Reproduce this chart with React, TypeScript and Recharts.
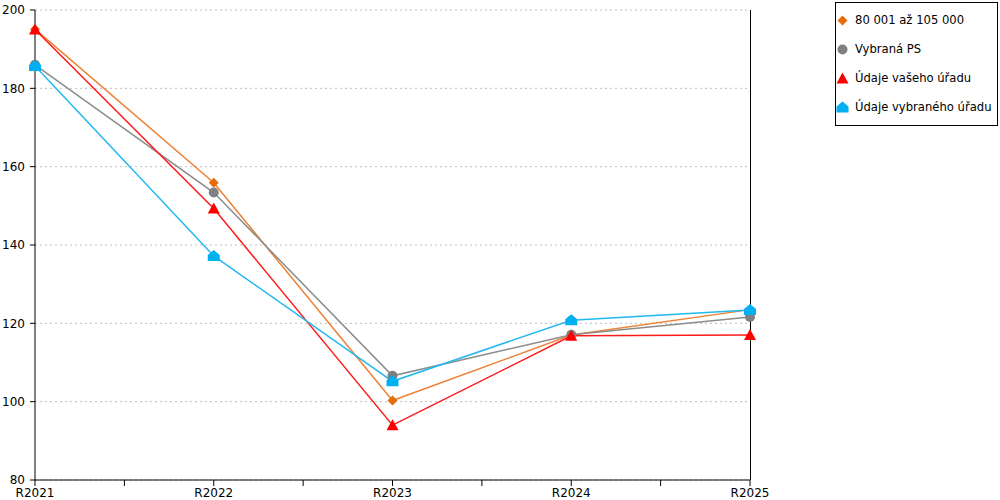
import { CartesianGrid, Line, LineChart, ReferenceLine, XAxis, YAxis } from "recharts";

const categories = ["R2021", "R2022", "R2023", "R2024", "R2025"];
const rangeGroup = [195.1, 155.9, 100.3, 117.0, 123.5];
const selectedPs = [186.0, 153.4, 106.6, 117.1, 121.6];
const yourOffice = [195.0, 149.3, 94.0, 116.8, 117.0];
const selectedOffice = [185.7, 137.2, 105.2, 120.8, 123.4];
const yTicks = [80, 100, 120, 140, 160, 180, 200];
const xTicks = [0, 0.5, 1, 1.5, 2, 2.5, 3, 3.5, 4];

const FONT = "'DejaVu Sans', Verdana, sans-serif";

type Shape = "diamond" | "circle" | "triangle" | "house";

const series: { key: string; name: string; color: string; line: string; shape: Shape }[] = [
  { key: "a", name: "80 001 až 105 000", color: "#E46C0A", line: "#EE8236", shape: "diamond" },
  { key: "b", name: "Vybraná PS", color: "#808080", line: "#8C8C8C", shape: "circle" },
  { key: "c", name: "Údaje vašeho úřadu", color: "#FF0000", line: "#FF1A1A", shape: "triangle" },
  { key: "d", name: "Údaje vybraného úřadu", color: "#00B0F0", line: "#22B8F0", shape: "house" },
];

const data = categories.map((c, i) => ({
  idx: i,
  cat: c,
  a: rangeGroup[i],
  b: selectedPs[i],
  c: yourOffice[i],
  d: selectedOffice[i],
}));

function Marker({ shape, cx, cy, fill }: { shape: Shape; cx: number; cy: number; fill: string }) {
  if (shape === "circle") return <circle cx={cx} cy={cy} r={5} fill={fill} />;
  let pts: number[][];
  if (shape === "diamond") {
    pts = [[cx, cy - 5], [cx + 5, cy], [cx, cy + 5], [cx - 5, cy]];
  } else if (shape === "triangle") {
    pts = [[cx, cy - 6], [cx + 6, cy + 5], [cx - 6, cy + 5]];
  } else {
    pts = [[cx, cy - 6], [cx + 6, cy - 1], [cx + 6, cy + 5], [cx - 6, cy + 5], [cx - 6, cy - 1]];
  }
  return <polygon points={pts.map((p) => p.join(",")).join(" ")} fill={fill} />;
}

function LegendBox() {
  return (
    <div
      style={{
        position: "absolute",
        left: 835,
        top: 2,
        width: 161,
        height: 122,
        border: "1px solid #000",
        background: "#fff",
        fontFamily: FONT,
        fontSize: 11.6,
        color: "#000",
      }}
    >
      {series.map((s, i) => (
        <div
          key={s.key}
          style={{ position: "absolute", left: 0, top: 9 + i * 29, height: 16, display: "flex", alignItems: "center" }}
        >
          <svg width={14} height={14}>
            <Marker shape={s.shape} cx={6.5} cy={7.5} fill={s.color} />
          </svg>
          <span style={{ marginLeft: 5, whiteSpace: "nowrap" }}>{s.name}</span>
        </div>
      ))}
    </div>
  );
}

export default function App() {
  return (
    <div style={{ position: "absolute", left: 0, top: 0, width: 1000, height: 500, background: "#fff" }}>
      <LineChart width={1000} height={500} data={data} margin={{ top: 10, right: 250, left: 0, bottom: 0 }}>
        <CartesianGrid vertical={false} stroke="#BFBFBF" strokeDasharray="2 3" />
        <XAxis
          dataKey="idx"
          type="number"
          domain={[0, 4]}
          ticks={xTicks}
          interval={0}
          height={20}
          tickSize={6}
          tickMargin={2}
          stroke="#000"
          tickFormatter={(v: number) => (Number.isInteger(v) ? categories[v] : "")}
          tick={{ fill: "#000", fontSize: 12, fontFamily: FONT }}
        />
        <YAxis
          domain={[80, 200]}
          ticks={yTicks}
          width={35}
          tickSize={5}
          tickMargin={5}
          stroke="#000"
          tick={{ fill: "#000", fontSize: 12, fontFamily: FONT }}
        />
        <ReferenceLine x={4} stroke="#000" strokeWidth={1} shapeRendering="crispEdges" />
        {series.map((s) => (
          <Line
            key={s.key}
            dataKey={s.key}
            name={s.name}
            type="linear"
            stroke={s.line}
            strokeWidth={1.5}
            isAnimationActive={false}
            dot={(p: any) => <Marker key={`${s.key}-${p.index}`} shape={s.shape} cx={p.cx} cy={p.cy} fill={s.color} />}
            activeDot={false}
          />
        ))}
      </LineChart>
      <LegendBox />
    </div>
  );
}
